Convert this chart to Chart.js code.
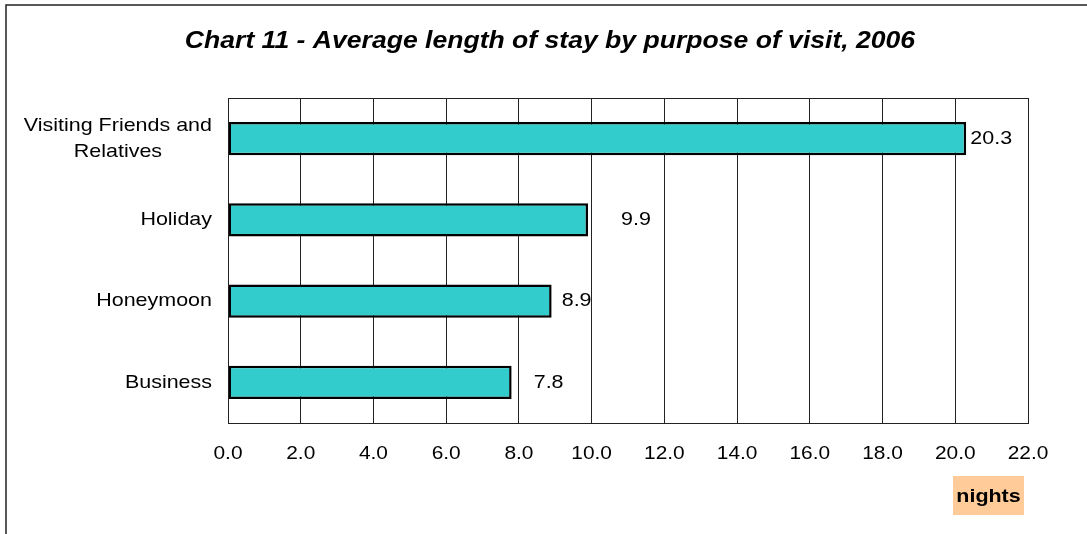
<!DOCTYPE html>
<html>
<head>
<meta charset="utf-8">
<script src="https://cdn.jsdelivr.net/npm/chart.js@4"></script>
<style>
  html, body { margin: 0; padding: 0; background: #fff; }
  #wrap { width: 1087px; height: 534px; }
</style>
</head>
<body>
<div id="wrap"><canvas id="stayChart" width="1087" height="534"></canvas></div>
<script>
const categories = [['Visiting Friends and', 'Relatives'], 'Holiday', 'Honeymoon', 'Business'];
const nights = [20.3, 9.9, 8.9, 7.8];
const tickStep = 2;
const axisMax = 22;
const titleText = 'Chart 11 - Average length of stay by purpose of visit, 2006';
const unitText = 'nights';

// horizontal gap (px) between bar end and the centre of its value label
const labelGap = [25, 48, 25, 37];
const FONT = '"Liberation Sans", Arial, sans-serif';
// the source text is a little wider than Arial at the same height
const STRETCH = 1.13;

function stretchedText(ctx, text, x, y, sx) {
    ctx.save();
    ctx.translate(x, y);
    ctx.scale(sx, 1);
    ctx.fillText(text, 0, 0);
    ctx.restore();
}

const framePlugin = {
    id: 'frame',
    beforeDraw(chart) {
        const ctx = chart.ctx;
        ctx.save();
        ctx.fillStyle = '#fff';
        ctx.fillRect(0, 0, chart.width, chart.height);
        ctx.strokeStyle = '#222';
        ctx.lineWidth = 1.5;
        ctx.beginPath();
        ctx.moveTo(6, chart.height);
        ctx.lineTo(6, 5);
        ctx.lineTo(chart.width, 5);
        ctx.stroke();
        ctx.restore();
    },
    afterDatasetsDraw(chart) {
        const ctx = chart.ctx;
        const area = chart.chartArea;
        const xScale = chart.scales.x;
        const yScale = chart.scales.y;
        ctx.save();
        ctx.strokeStyle = '#222';
        ctx.lineWidth = 1;
        ctx.strokeRect(area.left + 0.5, area.top + 0.5, area.right - area.left, area.bottom - area.top);

        ctx.fillStyle = '#000';
        ctx.textBaseline = 'middle';
        ctx.textAlign = 'center';

        // title
        ctx.font = 'italic bold 23px ' + FONT;
        stretchedText(ctx, titleText, 550, 42, 1.155);

        // category labels: right aligned block, lines centred inside it
        ctx.font = '19px ' + FONT;
        categories.forEach((cat, i) => {
            const lines = Array.isArray(cat) ? cat : [cat];
            const w = Math.max(...lines.map(l => ctx.measureText(l).width)) * STRETCH;
            const cx = area.left - 16 - w / 2;
            const cy = yScale.getPixelForValue(i);
            const lh = 26;
            lines.forEach((l, j) => {
                stretchedText(ctx, l, cx, cy + (j - (lines.length - 1) / 2) * lh, STRETCH);
            });
        });

        // value labels
        const meta = chart.getDatasetMeta(0);
        meta.data.forEach((bar, i) => {
            stretchedText(ctx, nights[i].toFixed(1), bar.x + labelGap[i], bar.y, STRETCH);
        });

        // x tick labels
        xScale.ticks.forEach(t => {
            stretchedText(ctx, t.value.toFixed(1), xScale.getPixelForValue(t.value), area.bottom + 31, 1.1);
        });

        // unit box
        const bx = 953, by = 476, bw = 71, bh = 39;
        ctx.fillStyle = '#FFCC99';
        ctx.fillRect(bx, by, bw, bh);
        ctx.fillStyle = '#000';
        ctx.font = 'bold 19px ' + FONT;
        stretchedText(ctx, unitText, bx + bw / 2, by + bh / 2 + 1, STRETCH);
        ctx.restore();
    }
};

new Chart(document.getElementById('stayChart'), {
    type: 'bar',
    data: {
        labels: categories,
        datasets: [{
            data: nights,
            backgroundColor: '#33CCCC',
            borderColor: '#000',
            borderWidth: 2.5,
            borderSkipped: false,
            barPercentage: 0.41,
            categoryPercentage: 1
        }]
    },
    options: {
        indexAxis: 'y',
        responsive: false,
        animation: false,
        layout: { padding: { left: 228, right: 59, top: 98, bottom: 0 } },
        plugins: {
            legend: { display: false },
            tooltip: { enabled: false },
            title: { display: false }
        },
        scales: {
            x: {
                min: 0,
                max: axisMax,
                afterFit(scale) { scale.height = 111; },
                ticks: { stepSize: tickStep, display: false },
                grid: { color: '#222', lineWidth: 1, drawTicks: false },
                border: { display: false }
            },
            y: {
                display: false
            }
        }
    },
    plugins: [framePlugin]
});
</script>
</body>
</html>
